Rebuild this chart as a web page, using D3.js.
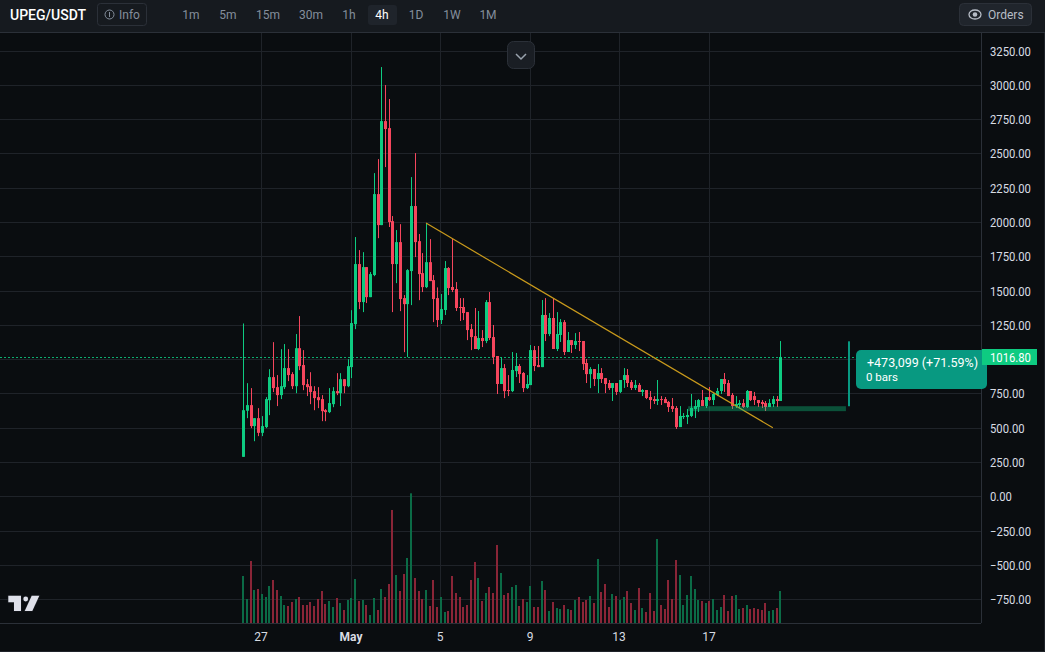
<!DOCTYPE html>
<html><head><meta charset="utf-8">
<script src="https://d3js.org/d3.v7.min.js"></script>
<style>
html,body{margin:0;padding:0;background:#0a0d10;overflow:hidden}
svg{display:block;font-family:Roboto,"Noto Sans",sans-serif}
</style></head><body>
<div id="chart"></div>
<script>
const opens=[292,628,669,516,574,467,509,705,873,800,742,800,939,895,807,1084,961,822,807,771,727,713,632,618,676,771,756,858,807,946,
1259,1697,1420,1675,1456,1617,2207,1981,2739,2688,2010,1697,1857,1449,1405,1646,2120,1864,1631,1529,1711,1580,
1449,1289,1362,1668,1530,1515,1384,1384,1347,1223,1172,1078,1158,1136,1420,1165,1027,823,939,779,771,917,954,903,793,815,1070,961,946,1326,1187,1304,1078,1180,1274,1056,1143,1107,1136,1136,976,895,932,859,903,866,830,
794,830,765,852,888,837,794,816,765,779,728,713,699,713,713,692,662,648,509,582,582,590,641,655,706,662,728,706,743,772,859,830,743,662,670,684,655,772,735,706,692,684,655,677,713,699];
const closes=[632,669,516,574,467,516,713,873,793,742,807,939,888,807,1084,953,815,800,764,720,705,625,618,684,771,756,858,807,953,1267,
1697,1420,1675,1456,1624,2207,1981,2739,2681,2003,1697,1857,1442,1405,1653,2120,1857,1624,1529,1711,1573,1442,
1289,1369,1668,1522,1508,1377,1377,1340,1216,1165,1078,1158,1136,1420,1158,1019,823,939,771,771,925,954,895,793,823,1070,954,946,1326,1187,1304,1078,1187,1274,1056,1143,1107,1136,1129,968,895,932,859,903,859,823,793,
830,765,852,888,830,794,816,765,779,721,706,699,713,706,684,655,641,509,590,590,597,648,662,706,662,728,706,750,772,859,823,735,662,677,684,655,772,706,706,684,677,655,684,713,699,1020];
const highs=[1264,829,793,574,647,589,727,931,1128,888,1077,1114,1077,909,1187,1318,1070,859,909,807,800,742,640,793,800,902,902,858,1004,1361,
1894,1799,1784,1675,1639,2360,2462,3133,3002,2900,2047,1945,1988,1471,1660,2331,2506,1916,1777,1996,1879,1617,
1527,1479,1719,1675,1880,1566,1449,1449,1347,1260,1377,1355,1216,1435,1493,1253,1027,1019,968,888,1056,1049,968,910,888,1107,1100,1100,1435,1449,1340,1449,1347,1296,1289,1202,1143,1194,1202,1136,1005,946,932,968,939,866,852,
830,830,852,939,932,852,852,830,786,779,772,735,852,735,728,699,721,662,662,611,641,750,706,713,779,728,801,757,794,859,903,852,757,735,706,713,779,772,765,706,706,699,713,735,735,1136];
const lows=[292,574,501,406,443,443,501,596,764,662,713,786,844,786,756,924,778,735,676,632,647,552,552,611,654,742,662,756,800,866,
1223,1369,1347,1413,1456,1609,1886,1981,2404,1967,1347,1558,1354,1055,1019,1398,1748,1434,1493,1522,1573,1274,
1238,1260,1326,1471,1493,1355,1282,1289,1143,1070,1078,1070,1092,1121,1143,968,750,823,720,735,764,874,830,764,786,815,917,946,946,1136,1172,1078,1063,1129,1034,1056,1049,1078,1063,925,830,793,808,757,830,757,779,
699,743,757,794,801,779,779,765,735,713,641,677,670,670,684,619,619,495,509,568,531,582,575,619,662,648,699,670,735,750,765,735,641,648,648,648,648,699,670,655,648,626,655,655,655,699];
const volumes=[141,72,186,99,102,87,78,111,129,99,81,54,51,63,72,78,54,54,63,51,72,96,57,66,48,75,60,39,69,75,132,66,69,54,24,75,39,102,78,117,339,144,96,147,195,389,135,96,72,99,51,129,48,78,33,36,141,90,78,48,54,129,183,135,66,90,108,90,234,150,84,90,108,
114,51,72,63,111,48,48,126,99,36,63,45,42,54,42,39,69,78,63,69,81,60,192,93,117,48,87,81,69,78,96,60,39,105,45,33,90,36,252,54,42,129,72,189,144,54,84,141,102,69,66,60,66,72,39,48,84,36,81,84,42,45,54,42,45,42,39,60,36,39,45,96];
const priceTicks=[3250,3000,2750,2500,2250,2000,1750,1500,1250,1000,750,500,250,0,-250,-500,-750];
const hiddenPriceLabel=1000; // covered by the last-price tag
const dateTickBars=[5,29,53,77,101,125];
const dateTickLabels=["27","May","5","9","13","17"];
const timeframes=["1m","5m","15m","30m","1h","4h","1D","1W","1M"];
const timeframeCentres=[191,228,268,311,349,382,416,452,488];
const lastPrice=1016.80;
const trendBars=[49,142], trendPrices=[1996,504];
const measureFrom=660.85, measureTo=1133.95;
const zoneBars=[119.3,161.6], zonePrices=[661,625];

const W=1045,H=652,plotR=981,plotB=623,topB=32;
const UP="#0ecb81",DOWN="#f6465d",VUP="#0b6b46",VDOWN="#8a2537",GRID="#1f2329",TXT="#d8dce3",MUTED="#848e9c",EDGE="#2b3038";
const x=d3.scaleLinear().domain([0,144]).range([243.3,780.3]);
const y=d3.scaleLinear().domain([0,3000]).range([496.9,85.3]);
const v=d3.scaleLinear().domain([0,389]).range([plotB,plotB-129.7]);
const svg=d3.select("#chart").append("svg").attr("width",W).attr("height",H);
svg.append("rect").attr("width",W).attr("height",H).attr("fill","#0a0d10");

const narrow=(sel,k)=>sel.each(function(){const l=this.getComputedTextLength();d3.select(this).attr("textLength",l*k).attr("lengthAdjust","spacingAndGlyphs");});

// grid + axes
const gy=svg.append("g").attr("class","grid-y").attr("transform",`translate(${plotR},0)`)
 .call(d3.axisRight(y).tickValues(priceTicks).tickSize(0).tickPadding(9).tickFormat(d3.format(".2f")));
gy.select(".domain").remove();
gy.selectAll(".tick").attr("transform",d=>`translate(0,${Math.floor(y(d))})`);
gy.selectAll("text").attr("fill",TXT).attr("font-size",12.5).attr("font-family","Roboto").attr("y",0.8)
  .text(d=>d===hiddenPriceLabel?"":d3.format(".2f")(d).replace("-","−"));
narrow(gy.selectAll("text").filter(d=>d!==hiddenPriceLabel),.9);
gy.selectAll("line").attr("x1",0).attr("x2",-plotR).attr("stroke",GRID).attr("stroke-width",1).attr("y1",0.5).attr("y2",0.5);
const gx=svg.append("g").attr("class","grid-x").attr("transform",`translate(0,${plotB})`)
 .call(d3.axisBottom(x).tickValues(dateTickBars).tickSize(0).tickPadding(9).tickFormat((d,i)=>dateTickLabels[i]));
gx.select(".domain").remove();
gx.selectAll(".tick").attr("transform",d=>`translate(${Math.floor(x(d))},0)`);
gx.selectAll("text").attr("fill",TXT).attr("font-size",12).attr("font-family","Roboto").attr("font-weight",(d,i)=>dateTickLabels[i]==="May"?700:400);
gx.selectAll("line").attr("x1",.5).attr("x2",.5).attr("y1",0).attr("y2",topB-plotB).attr("stroke",GRID).attr("stroke-width",1);
svg.append("line").attr("x1",0).attr("x2",plotR).attr("y1",plotB+.5).attr("y2",plotB+.5).attr("stroke",EDGE);
svg.append("line").attr("x1",plotR+.5).attr("x2",plotR+.5).attr("y1",topB).attr("y2",plotB).attr("stroke",EDGE);
svg.append("path").attr("d",`M${W-.5} 32V${H-.5}H0`).attr("fill","none").attr("stroke",GRID);

// volume
const idx=d3.range(volumes.length);
svg.append("g").selectAll("rect").data(idx).join("rect")
 .attr("x",i=>Math.round(x(i))-1).attr("width",2)
 .attr("y",i=>v(volumes[i])).attr("height",i=>plotB-v(volumes[i]))
 .attr("fill",i=>closes[i]>=opens[i]?VUP:VDOWN);

// last price dashed
svg.append("line").attr("x1",0).attr("x2",plotR).attr("y1",Math.round(y(lastPrice))+.5).attr("y2",Math.round(y(lastPrice))+.5)
 .attr("stroke",UP).attr("stroke-opacity",.85).attr("stroke-dasharray","2,2");

// candles
const c=svg.append("g").selectAll("g").data(idx).join("g").attr("fill",i=>closes[i]>=opens[i]?UP:DOWN);
c.append("rect").attr("x",i=>Math.round(x(i))).attr("width",1)
 .attr("y",i=>y(highs[i])).attr("height",i=>y(lows[i])-y(highs[i]));
c.append("rect").attr("x",i=>Math.round(x(i))-1).attr("width",3)
 .attr("y",i=>y(Math.max(opens[i],closes[i]))).attr("height",i=>Math.max(1,Math.abs(y(opens[i])-y(closes[i]))));

// trend line
svg.append("line").attr("x1",x(trendBars[0])).attr("y1",y(trendPrices[0])).attr("x2",x(trendBars[1])).attr("y2",y(trendPrices[1]))
 .attr("stroke","#c99a1c").attr("stroke-width",1.2);

// measure tool
svg.append("rect").attr("x",x(zoneBars[0])).attr("width",x(zoneBars[1])-x(zoneBars[0]))
 .attr("y",y(zonePrices[0])).attr("height",y(zonePrices[1])-y(zonePrices[0])).attr("fill","#0ecb81").attr("fill-opacity",.36);
svg.append("rect").attr("x",848).attr("width",2).attr("y",y(measureTo)).attr("height",y(measureFrom)-y(measureTo)).attr("fill","#089981");
svg.append("rect").attr("x",856).attr("y",350).attr("width",131).attr("height",39).attr("rx",5).attr("fill","#089981");
svg.append("text").attr("x",867).attr("y",367).attr("fill","#fff").attr("font-size",12.5).text(`+473,099 (+${d3.format(".2f")((measureTo-measureFrom)/measureFrom*100)}%)`);
svg.append("text").attr("x",866).attr("y",381).attr("fill","#fff").attr("font-size",11.5).text("0 bars");

// price tag
svg.append("rect").attr("x",982).attr("y",349).attr("width",55).attr("height",16).attr("fill",UP);
narrow(svg.append("text").attr("x",990).attr("y",361.5).attr("fill","#fff").attr("font-size",12.5).text(d3.format(".2f")(lastPrice)),.9);

// header
svg.append("rect").attr("width",W).attr("height",32).attr("fill","#161a1f");
svg.append("line").attr("x1",0).attr("x2",W).attr("y1",32.5).attr("y2",32.5).attr("stroke",EDGE);
svg.append("text").attr("x",10).attr("y",19.5).attr("fill","#fff").attr("font-size",14).attr("font-weight",500).text("UPEG/USDT");
svg.append("rect").attr("x",97.5).attr("y",3.5).attr("width",49).attr("height",22).attr("rx",3).attr("fill","none").attr("stroke",EDGE);
svg.append("circle").attr("cx",109.5).attr("cy",14.5).attr("r",4.5).attr("fill","none").attr("stroke",MUTED);
svg.append("line").attr("x1",109.5).attr("x2",109.5).attr("y1",12).attr("y2",17).attr("stroke",MUTED);
svg.append("text").attr("x",119).attr("y",18.5).attr("fill",MUTED).attr("font-size",12).text("Info");
svg.append("rect").attr("x",368).attr("y",5).attr("width",29).attr("height",20).attr("rx",3).attr("fill","#1f242b");
svg.append("g").selectAll("text").data(timeframes).join("text")
 .attr("x",(d,i)=>timeframeCentres[i]).attr("y",19).attr("text-anchor","middle").attr("font-size",12)
 .attr("fill",d=>d==="4h"?"#fff":MUTED).text(d=>d);
svg.append("rect").attr("x",959.5).attr("y",3.5).attr("width",72).attr("height",22).attr("rx",4).attr("fill","#20252c").attr("stroke",EDGE);
svg.append("ellipse").attr("cx",975).attr("cy",14.5).attr("rx",6).attr("ry",4.5).attr("fill","none").attr("stroke","#b7bdc6").attr("stroke-width",1.3);
svg.append("circle").attr("cx",975).attr("cy",14.5).attr("r",2.3).attr("fill","#b7bdc6");
svg.append("text").attr("x",988).attr("y",18.5).attr("fill","#b7bdc6").attr("font-size",12).text("Orders");

// collapse button
svg.append("rect").attr("x",507.5).attr("y",41.5).attr("width",27).attr("height",27).attr("rx",6).attr("fill","#1a1e24").attr("stroke",EDGE);
svg.append("path").attr("d","M516 54l5 5 5-5").attr("fill","none").attr("stroke","#9aa3ae").attr("stroke-width",1.5);

// logo
const logo=svg.append("g").attr("fill","#dfe1ea").attr("stroke","#14171d").attr("stroke-width",1.5).attr("paint-order","stroke");
logo.append("path").attr("d","M8.3 595.7H21V611H14V602.3H8.3Z");
logo.append("circle").attr("cx",25.7).attr("cy",599).attr("r",2.4);
logo.append("path").attr("d","M31.7 595.7H39.3L32.3 611H24.7Z");
</script></body></html>
